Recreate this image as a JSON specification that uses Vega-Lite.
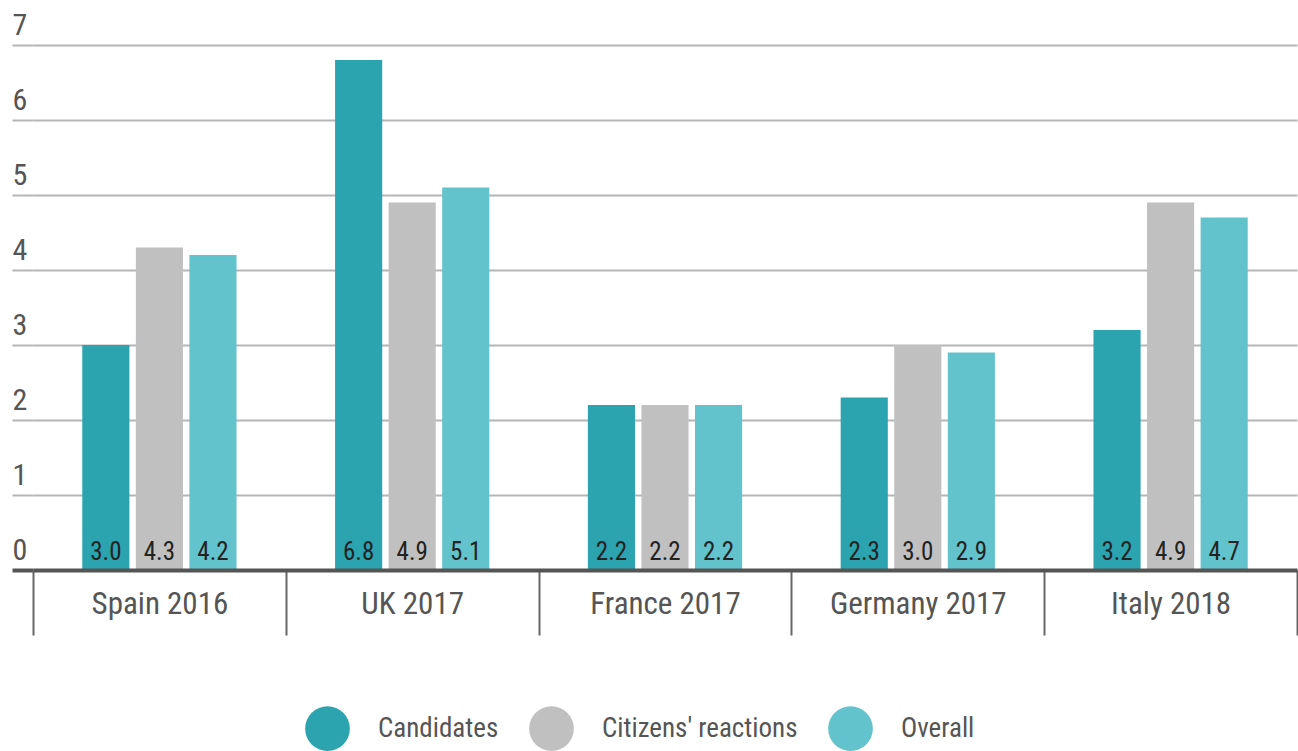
{
  "$schema": "https://vega.github.io/schema/vega-lite/v6.json",
  "width": 1264,
  "height": 525,
  "autosize": {"type": "none"},
  "padding": {"left": 33, "top": 45, "right": 1, "bottom": 181},
  "background": "white",
  "config": {
    "view": {"stroke": null},
    "font": "Roboto Condensed, Noto Sans Condensed, Open Sans Condensed, DejaVu Sans Condensed, sans-serif",
    "axis": {"labelFont": "Roboto Condensed, Noto Sans Condensed, Open Sans Condensed, DejaVu Sans Condensed, sans-serif"},
    "legend": {"labelFont": "Roboto Condensed, Noto Sans Condensed, Open Sans Condensed, DejaVu Sans Condensed, sans-serif"}
  },
  "data": {
    "values": [
      {"election": "Spain 2016", "series": "Candidates", "value": 3.0},
      {"election": "Spain 2016", "series": "Citizens' reactions", "value": 4.3},
      {"election": "Spain 2016", "series": "Overall", "value": 4.2},
      {"election": "UK 2017", "series": "Candidates", "value": 6.8},
      {"election": "UK 2017", "series": "Citizens' reactions", "value": 4.9},
      {"election": "UK 2017", "series": "Overall", "value": 5.1},
      {"election": "France 2017", "series": "Candidates", "value": 2.2},
      {"election": "France 2017", "series": "Citizens' reactions", "value": 2.2},
      {"election": "France 2017", "series": "Overall", "value": 2.2},
      {"election": "Germany 2017", "series": "Candidates", "value": 2.3},
      {"election": "Germany 2017", "series": "Citizens' reactions", "value": 3.0},
      {"election": "Germany 2017", "series": "Overall", "value": 2.9},
      {"election": "Italy 2018", "series": "Candidates", "value": 3.2},
      {"election": "Italy 2018", "series": "Citizens' reactions", "value": 4.9},
      {"election": "Italy 2018", "series": "Overall", "value": 4.7}
    ]
  },
  "encoding": {
    "x": {
      "field": "election",
      "type": "nominal",
      "sort": ["Spain 2016", "UK 2017", "France 2017", "Germany 2017", "Italy 2018"],
      "scale": {"paddingInner": 0, "paddingOuter": 0},
      "axis": {
        "title": null,
        "labelAngle": 0,
        "labelFontSize": 31,
        "labelLimit": 0,
        "labelColor": "#555555",
        "labelBaseline": "alphabetic",
        "labelPadding": -22,
        "tickBand": "extent",
        "tickSize": 65,
        "tickWidth": 2,
        "tickColor": "#666666",
        "domainColor": "#555555",
        "domainWidth": 4,
        "grid": false,
        "zindex": 1
      }
    },
    "xOffset": {
      "field": "series",
      "type": "nominal",
      "sort": ["Candidates", "Citizens' reactions", "Overall"],
      "scale": {"paddingInner": 0.12, "paddingOuter": 0.92}
    }
  },
  "layer": [
    {
      "mark": {"type": "bar"},
      "encoding": {
        "y": {
          "field": "value",
          "type": "quantitative",
          "scale": {"domain": [0, 7], "nice": false},
          "axis": {
            "title": null,
            "values": [0, 1, 2, 3, 4, 5, 6, 7],
            "format": "d",
            "domain": false,
            "grid": true,
            "gridColor": "#b5b5b5",
            "gridWidth": 2,
            "tickSize": 21,
            "tickColor": {"condition": {"test": "datum.value === 0", "value": "#555555"}, "value": "#b5b5b5"},
            "tickWidth": {"condition": {"test": "datum.value === 0", "value": 4}, "value": 2},
            "labelAlign": "left",
            "labelBaseline": "alphabetic",
            "labelPadding": 0,
            "labelOffset": -11,
            "labelFontSize": 30,
            "labelColor": "#555555"
          }
        },
        "color": {
          "field": "series",
          "type": "nominal",
          "sort": ["Candidates", "Citizens' reactions", "Overall"],
          "scale": {"domain": ["Candidates", "Citizens' reactions", "Overall"], "range": ["#2ba4b0", "#c0c0c0", "#62c3cc"]},
          "legend": {
            "title": null,
            "orient": "none",
            "direction": "horizontal",
            "legendX": 272,
            "legendY": 661,
            "symbolType": "circle",
            "symbolSize": 2000,
            "symbolStrokeWidth": 0,
            "symbolOpacity": 1,
            "labelFontSize": 27,
            "labelLimit": 0,
            "labelColor": "#555555",
            "labelOffset": 28,
            "columnPadding": 30
          }
        }
      }
    },
    {
      "mark": {"type": "text", "dy": -10, "baseline": "alphabetic", "fontSize": 25, "color": "#222222"},
      "encoding": {
        "y": {"datum": 0},
        "text": {"field": "value", "type": "quantitative", "format": ".1f"}
      }
    }
  ]
}
